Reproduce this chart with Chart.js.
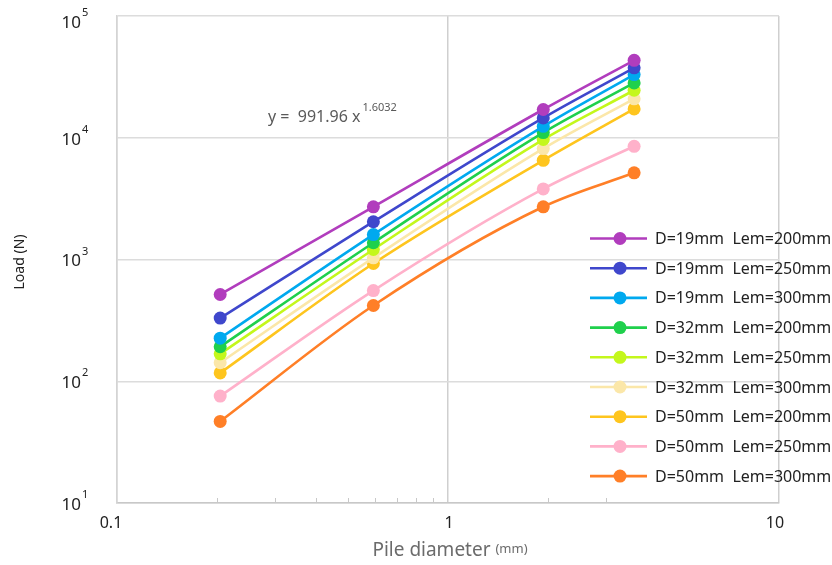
<!DOCTYPE html>
<html><head><meta charset="utf-8">
<script src="https://cdn.jsdelivr.net/npm/chart.js@4/dist/chart.umd.min.js"></script>
<style>html,body{margin:0;padding:0;background:#fff;}#wrap{width:832px;height:565px;position:relative;}</style>
</head><body><div id="wrap"><canvas id="c" width="832" height="565"></canvas></div>
<script>
// ---- data ----
const pileDiameters = [0.205, 0.595, 1.94, 3.65];
const seriesLabels = [
  'D=19mm  Lem=200mm','D=19mm  Lem=250mm','D=19mm  Lem=300mm',
  'D=32mm  Lem=200mm','D=32mm  Lem=250mm','D=32mm  Lem=300mm',
  'D=50mm  Lem=200mm','D=50mm  Lem=250mm','D=50mm  Lem=300mm'
];
const d19_l200 = [516, 2710, 17060, 43250];
const d19_l250 = [330, 2043, 14560, 37500];
const d19_l300 = [226, 1603, 12420, 33040];
const d32_l200 = [192, 1372, 11030, 28230];
const d32_l250 = [168, 1208, 9670, 24550];
const d32_l300 = [142, 1032, 8150, 20860];
const d50_l200 = [117, 927, 6530, 17260];
const d50_l250 = [75.5, 556, 3800, 8510];
const d50_l300 = [46.8, 419, 2710, 5150];
const seriesValues = [d19_l200, d19_l250, d19_l300, d32_l200, d32_l250, d32_l300, d50_l200, d50_l250, d50_l300];
const yTickExponents = [1, 2, 3, 4, 5];
const xTickValues = [0.1, 1, 10];
const xTickLabels = ['0.1', '1', '10'];
const xMinorTicks = [0.2, 0.3, 0.4, 0.5, 0.6, 0.7, 0.8, 0.9, 2, 3];
const fitEquation = { coef: '991.96', exponent: '1.6032' };

// ---- styles ----
const seriesColors = ['#b13dbd','#3f47cc','#00a9ef','#1fd04c','#c4f71c','#fbe7a9','#fec51e','#ffb1ca','#ff7f27'];
const FONT = "'Noto Sans', 'Open Sans', sans-serif";

const datasets = seriesValues.map((vals, i) => ({
  label: seriesLabels[i],
  data: vals.map((v, j) => ({ x: pileDiameters[j], y: v })),
  borderColor: seriesColors[i],
  backgroundColor: seriesColors[i],
  pointBackgroundColor: seriesColors[i],
  pointBorderWidth: 0,
  pointRadius: 6.5,
  borderWidth: 2.6,
  cubicInterpolationMode: 'monotone',
  fill: false
}));

function isDecade(v) { const l = Math.log10(v); return Math.abs(l - Math.round(l)) < 1e-6; }

const overlay = {
  id: 'overlay',
  afterDraw(chart) {
    const ctx = chart.ctx, xs = chart.scales.x, ys = chart.scales.y, a = chart.chartArea;
    ctx.save();
    // minor ticks on x axis
    ctx.strokeStyle = '#c8c8c8'; ctx.lineWidth = 1;
    xMinorTicks.forEach(v => {
      const px = Math.round(xs.getPixelForValue(v)) + 0.5;
      ctx.beginPath(); ctx.moveTo(px, a.bottom); ctx.lineTo(px, a.bottom - 5); ctx.stroke();
    });
    // y tick labels 10^n
    ctx.fillStyle = '#222'; ctx.textBaseline = 'middle';
    yTickExponents.forEach(e => {
      const py = ys.getPixelForValue(Math.pow(10, e));
      const cy = Math.max(py + 2, 23);
      ctx.font = '17px ' + FONT; ctx.textAlign = 'right';
      ctx.fillText('10', 81, cy);
      ctx.font = '11px ' + FONT; ctx.textAlign = 'left';
      ctx.fillText(String(e), 82, cy - 10);
    });
    // x tick labels
    ctx.font = '16px ' + FONT; ctx.textAlign = 'center'; ctx.fillStyle = '#222';
    const xShift = [-6, 1, -4];
    xTickValues.forEach((v, i) => {
      ctx.fillText(xTickLabels[i], xs.getPixelForValue(v) + xShift[i], 523);
    });
    // x title
    ctx.fillStyle = '#6b6b6b'; ctx.textAlign = 'left';
    ctx.font = '19px ' + FONT;
    const t1 = 'Pile diameter ';
    const w1 = ctx.measureText(t1).width;
    ctx.font = '13px ' + FONT;
    const w2 = ctx.measureText('(mm)').width;
    const sx = 450 - (w1 + w2) / 2;
    ctx.font = '19px ' + FONT; ctx.fillText(t1, sx, 551);
    ctx.font = '13px ' + FONT; ctx.fillText('(mm)', sx + w1, 549);
    // y title
    ctx.save();
    ctx.translate(20, 262); ctx.rotate(-Math.PI / 2);
    ctx.font = '14px ' + FONT; ctx.fillStyle = '#222'; ctx.textAlign = 'center';
    ctx.fillText('Load (N)', 0, 0);
    ctx.restore();
    // equation
    ctx.fillStyle = '#5a5a5a'; ctx.textAlign = 'left';
    ctx.font = '16px ' + FONT;
    const eq = 'y =  ' + fitEquation.coef + ' x';
    ctx.fillText(eq, 268, 117);
    const we = ctx.measureText(eq).width;
    ctx.font = '11px ' + FONT;
    ctx.fillText(fitEquation.exponent, 268 + we + 2, 108);
    // legend
    chart.data.datasets.forEach((ds, i) => {
      const cy = 238.5 + i * 29.7;
      ctx.strokeStyle = ds.borderColor; ctx.lineWidth = 2.6;
      ctx.beginPath(); ctx.moveTo(590, cy); ctx.lineTo(647, cy); ctx.stroke();
      ctx.fillStyle = ds.borderColor;
      ctx.beginPath(); ctx.arc(620, cy, 6.5, 0, Math.PI * 2); ctx.fill();
      ctx.fillStyle = '#222'; ctx.font = '16px ' + FONT; ctx.textBaseline = 'middle';
      ctx.fillText(ds.label, 655, cy + 1);
    });
    ctx.restore();
  }
};

new Chart(document.getElementById('c'), {
  type: 'line',
  data: { datasets },
  options: {
    responsive: false,
    animation: false,
    layout: { padding: { left: 0, top: 16, right: 53, bottom: 0 } },
    plugins: { legend: { display: false }, tooltip: { enabled: false } },
    scales: {
      x: {
        type: 'logarithmic', min: 0.1, max: 10,
        ticks: { display: false },
        grid: { drawTicks: false, tickLength: 0, lineWidth: 1.5,
          color: c => (c.tick && isDecade(c.tick.value)) ? '#cfcfcf' : 'rgba(0,0,0,0)' },
        border: { display: true, color: '#c8c8c8', width: 1.5 },
        afterFit: s => { s.height = 62; }
      },
      y: {
        type: 'logarithmic', min: 10, max: 100000,
        ticks: { display: false },
        grid: { drawTicks: false, tickLength: 0, lineWidth: 1.5,
          color: c => (c.tick && isDecade(c.tick.value)) ? '#dcdcdc' : 'rgba(0,0,0,0)' },
        border: { display: true, color: '#d4d4d4', width: 1.5 },
        afterFit: s => { s.width = 117; }
      }
    }
  },
  plugins: [overlay]
});
</script></body></html>
